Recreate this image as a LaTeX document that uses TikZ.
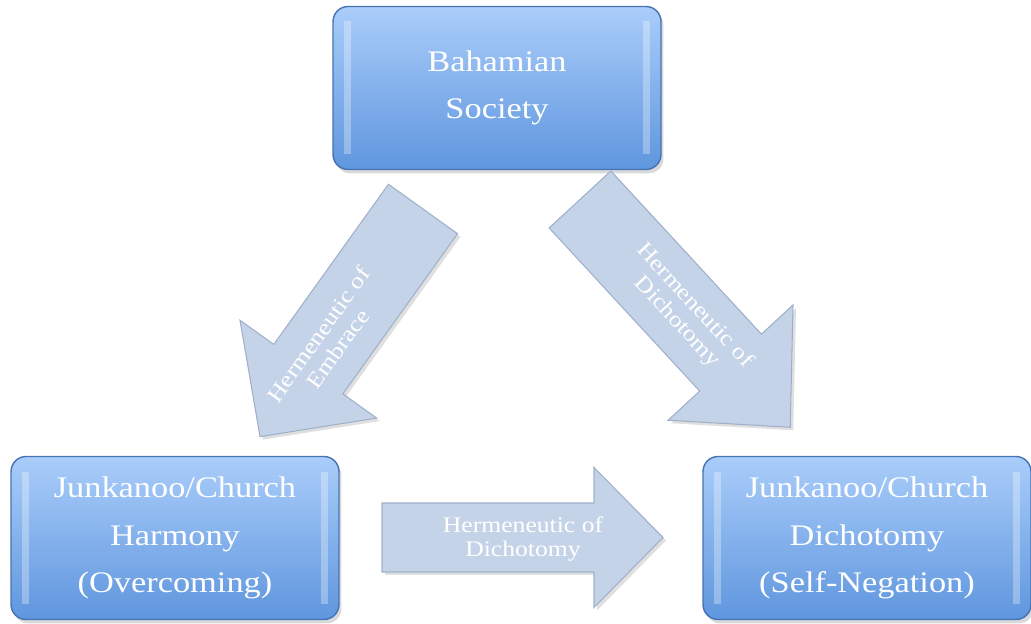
\documentclass[tikz,border=0pt]{standalone}
\usepackage{fontspec}
\setmainfont[FakeStretch=1.15]{Liberation Serif}
\usetikzlibrary{shadows}
\definecolor{boxtop}{RGB}{170,205,250}
\definecolor{boxbot}{RGB}{95,150,222}
\definecolor{boxline}{RGB}{70,115,180}
\definecolor{arrfill}{RGB}{197,211,232}
\definecolor{arrline}{RGB}{160,176,202}
\tikzset{
	blk/.style={rectangle,rounded corners=0.3cm,minimum width=6.56cm,minimum height=3.26cm,
		top color=boxtop,bottom color=boxbot,draw=boxline,line width=0.8pt,
		drop shadow={opacity=0.3,shadow xshift=0.5mm,shadow yshift=-0.8mm},
		path picture={
			\fill[white,opacity=0.3,sharp corners] ([xshift=0.22cm,yshift=-0.3cm]path picture bounding box.north west) rectangle ([xshift=0.36cm,yshift=0.3cm]path picture bounding box.south west);
			\fill[white,opacity=0.3,sharp corners] ([xshift=-0.22cm,yshift=-0.3cm]path picture bounding box.north east) rectangle ([xshift=-0.36cm,yshift=0.3cm]path picture bounding box.south east);
		},
		text=white,align=center,font=\fontsize{17}{27}\selectfont},
	blkarr/.style={fill=arrfill,draw=arrline,line width=0.6pt,
		drop shadow={opacity=0.25,shadow xshift=0.6mm,shadow yshift=-0.6mm}},
	arrtxt/.style={text=white,align=center,font=\fontsize{12.7}{13.6}\selectfont,inner sep=0pt}
}
\begin{document}
\begin{tikzpicture}[x=0.02cm,y=0.02cm]
	\useasboundingbox (0,0) rectangle (1031,624);
	% the three blocks
	\node[blk](soc) at (497,536){Bahamian\\Society};
	\node[blk](harm) at (175,86){Junkanoo/Church\\Harmony\\(Overcoming)};
	\node[blk](dich) at (867,86){Junkanoo/Church\\Dichotomy\\(Self-Negation)};
	% society -> harmony
	\begin{scope}[shift={(423,415)},rotate=234.4]
		\draw[blkarr] (0,-42.5) -- (197,-42.5) -- (197,-84) -- (280,0) -- (197,84) -- (197,42.5) -- (0,42.5) -- cycle;
		\node[arrtxt,rotate=54.4](embr) at (163,0){Hermeneutic of\\Embrace};
	\end{scope}
	% society -> dichotomy
	\begin{scope}[shift={(580,424.5)},rotate=-47.3]
		\draw[blkarr] (0,-42) -- (222,-42) -- (222,-85) -- (310,0) -- (222,85) -- (222,42) -- (0,42) -- cycle;
		\node[arrtxt,rotate=-47.3](dichd) at (156,0){Hermeneutic of\\Dichotomy};
	\end{scope}
	% harmony -> dichotomy
	\begin{scope}[shift={(382,86.5)}]
		\draw[blkarr] (0,-34.5) -- (212,-34.5) -- (212,-70) -- (281,0) -- (212,70) -- (212,34.5) -- (0,34.5) -- cycle;
		\node[arrtxt](dichb) at (141,-2){Hermeneutic of\\Dichotomy};
	\end{scope}
\end{tikzpicture}
\end{document}
